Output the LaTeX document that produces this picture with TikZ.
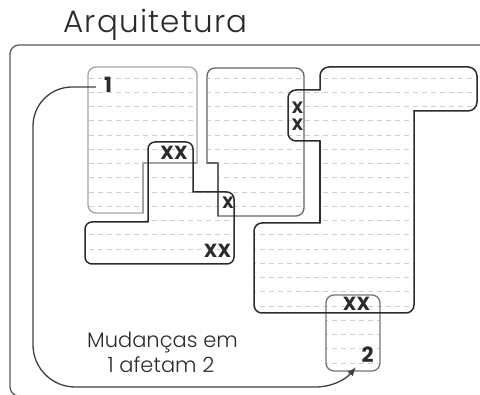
\documentclass[tikz,border=0pt]{standalone}
\usepackage{fontspec}
\setmainfont{Poppins}
\newfontfamily\lightfont{Poppins}[UprightFont=* Light]
\newfontfamily\titlefont{Poppins}[UprightFont=* Light, LetterSpace=4]
\usetikzlibrary{arrows.meta}
\definecolor{ink}{HTML}{2B2B2B}
\definecolor{framec}{HTML}{5A5A5A}
\definecolor{paleline}{HTML}{A4A4A4}
\definecolor{midline}{HTML}{646464}
\definecolor{boxline}{HTML}{747474}
\definecolor{hatchc}{HTML}{CFCFCF}
\tikzset{
  hatch/.style={draw=hatchc, line width=0.9pt, dash pattern=on 5pt off 4pt},
  darkline/.style={draw=ink, line width=1.5pt, line cap=round, line join=round},
  midedge/.style={draw=midline, line width=1.3pt, line cap=round, line join=round},
  paleedge/.style={draw=paleline, line width=1.3pt, line cap=round, line join=round},
  boxedge/.style={draw=boxline, line width=1.3pt, rounded corners=8pt},
  xmark/.style={inner sep=0pt, font=\fontsize{19}{19}\selectfont\bfseries, text=ink},
  smallx/.style={inner sep=0pt, font=\fontsize{16.5}{16.5}\selectfont\bfseries, text=ink},
  num/.style={inner sep=0pt, font=\fontsize{21}{21}\selectfont\bfseries, text=ink},
  link/.style={draw=ink!90, line width=1.3pt, -{Latex[length=9pt,width=7pt]}},
}
\newcommand{\hatchrows}{%
  \foreach \k in {0,...,20} {\draw[hatch] (80,{78+14.25*\k}) -- (480,{78+14.25*\k});}}
\begin{document}
\begin{tikzpicture}[x=1pt,y=-1pt]
\useasboundingbox (0,0) rectangle (480,395);
\clip (0,0) rectangle (480,395);

% title and outer frame
\node[anchor=base west, inner sep=0pt, font=\titlefont\fontsize{31}{31}\selectfont, text=ink] (title) at (63,33) {Arquitetura};
\draw[draw=framec, line width=1.3pt, rounded corners=9pt] (10,45) rectangle (500,396);

% ruled fill of each module
\begin{scope}\clip[rounded corners=7pt] (88,67) -- (197,67) -- (197,163) -- (143,163) -- (143,213) -- (88,213) -- cycle; \hatchrows\end{scope}
\begin{scope}\clip[rounded corners=7pt] (148,142) -- (193,142) -- (193,192) -- (234,192) -- (234,264) -- (85,264) -- (85,222) -- (148,222) -- cycle; \hatchrows\end{scope}
\begin{scope}\clip[rounded corners=7pt] (207,68) -- (304,68) -- (304,216) -- (218,216) -- (218,163) -- (207,163) -- cycle; \hatchrows\end{scope}
\begin{scope}\clip[rounded corners=7pt] (320,67) -- (477,67) -- (477,111) -- (414,111) -- (414,313) -- (254,313) -- (254,223) -- (320,223) -- (320,141) -- (288,141) -- (288,90) -- (320,90) -- cycle; \hatchrows\end{scope}
\begin{scope}\clip[rounded corners=8pt] (326,295) rectangle (380,371); \hatchrows\end{scope}

% module A (pale)
\draw[paleedge, rounded corners=8pt] (143,213) -- (88,213) -- (88,67) -- (197,67) -- (197,163);
\draw[paleedge] (197,163) -- (143,163) -- (143,213);

% module C (mid grey)
\draw[midedge, rounded corners=8pt] (218,216) -- (304,216) -- (304,68) -- (207,68) -- (207,163);
\draw[midedge] (207,163) -- (218,163) -- (218,216);

% module E (small box)
\draw[boxedge] (326,295) rectangle (380,371);

% module B (dark)
\draw[darkline, rounded corners=7pt] (193,192) -- (193,142) -- (148,142) -- (148,222);
\draw[darkline, rounded corners=7pt] (148,222) -- (85,222) -- (85,264) -- (234,264) -- (234,192) -- (193,192);

% module D (dark)
\draw[darkline, rounded corners=9pt] (320,90) -- (320,67) -- (477,67) -- (477,111) -- (414,111);
\draw[darkline, rounded corners=8pt] (414,111) -- (414,313) -- (254,313) -- (254,223) -- (320,223);
\draw[darkline] (320,223) -- (320,141);
\draw[darkline, rounded corners=8pt] (320,141) -- (288,141) -- (288,90) -- (320,90);

% overlap marks
\node[xmark] (xxa) at (174,153) {XX};
\node[xmark] (xxb) at (217.5,251) {XX};
\node[smallx] (xbc) at (228,203) {X};
\node[smallx] (xt1) at (297.5,108) {X};
\node[smallx] (xt2) at (297.5,125) {X};
\node[xmark] (xxe) at (356.5,304) {XX};

% module numbers
\node[num] (one) at (108,84.5) {1};
\node[num] (two) at (367.5,354.5) {2};

% dependency arrow
\coordinate (arrstart) at ([xshift=-8pt]one.west |- 0,87);
\coordinate (arrend) at (356,367);
\draw[link] (arrstart) -- (72,87) .. controls (50.5,87) and (33,104.5) .. (33,126)
  -- (33,345) .. controls (33,368) and (52,387) .. (75,387)
  -- (315,387) .. controls (333,387) and (346,379) .. (arrend);

% caption
\node[anchor=base, inner sep=0pt, font=\lightfont\fontsize{21}{21}\selectfont, text=ink] (cap1) at (162.5,348) {Mudanças em};
\node[anchor=base, inner sep=0pt, font=\lightfont\fontsize{21}{21}\selectfont, text=ink] (cap2) at (161,373) {1 afetam 2};
\end{tikzpicture}
\end{document}
